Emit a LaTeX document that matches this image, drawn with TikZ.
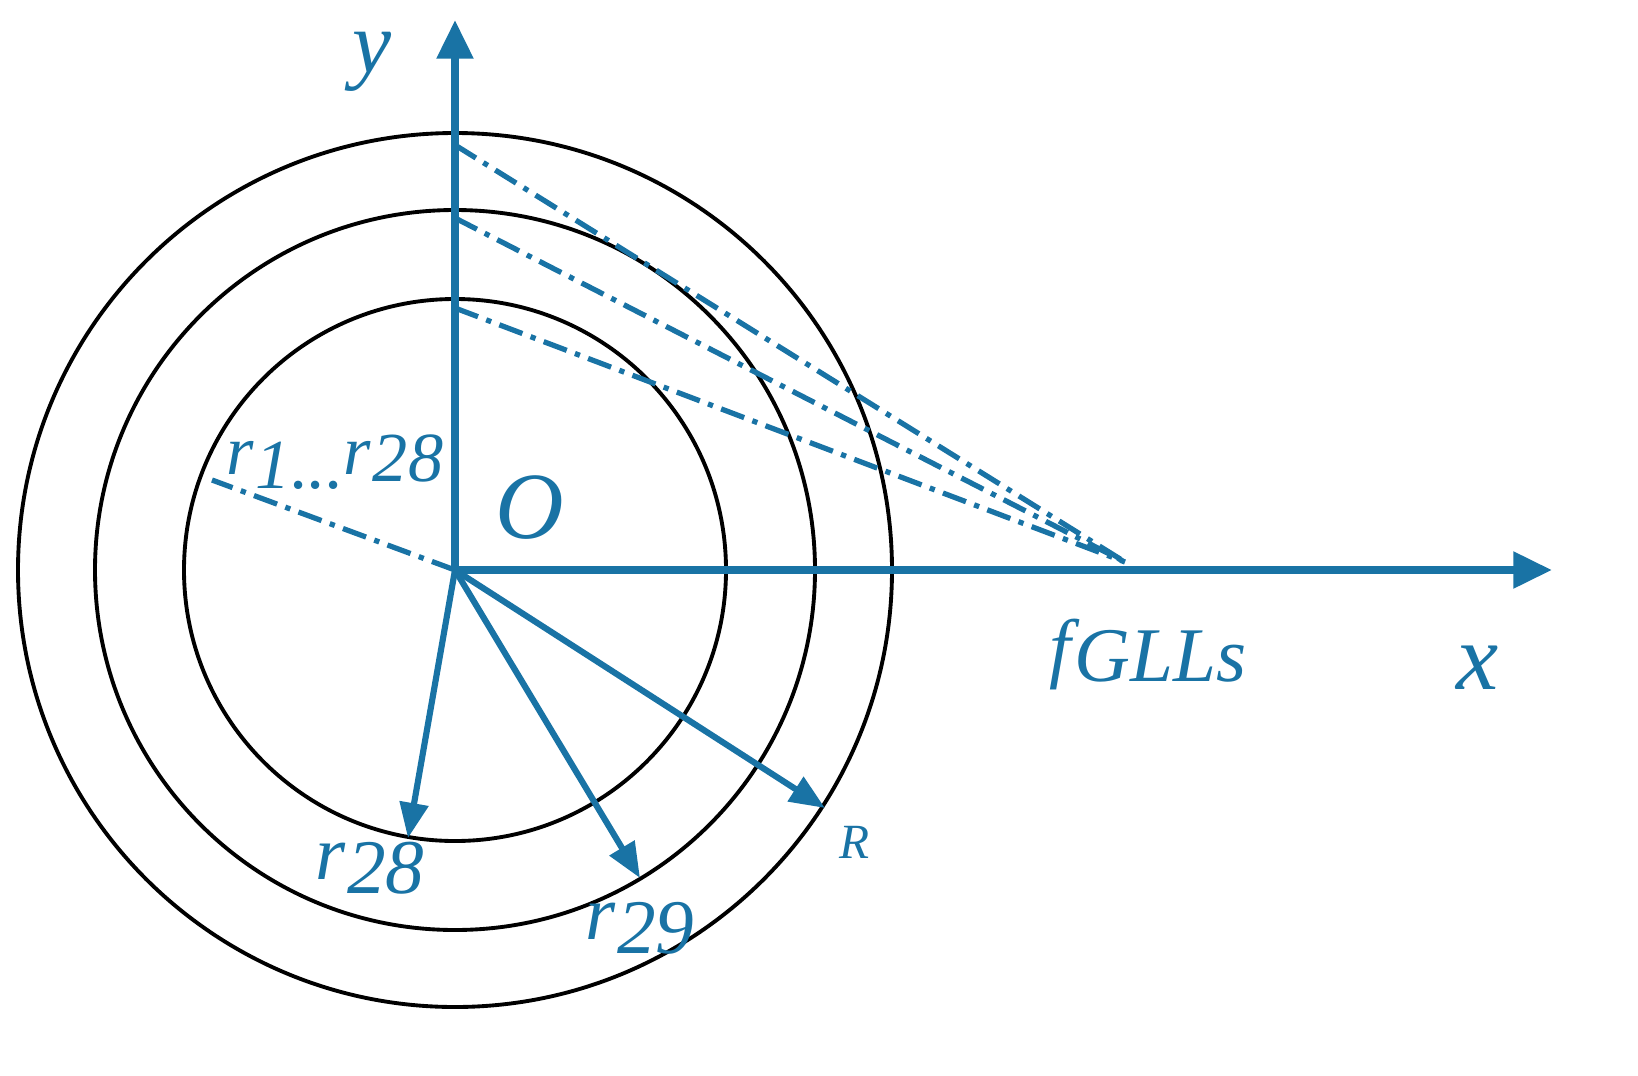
\documentclass[tikz,border=0pt]{standalone}
\usepackage{fontspec}
\setmainfont{Liberation Serif}
\usetikzlibrary{arrows.meta}
\definecolor{ax}{RGB}{25,115,165}
\tikzset{axis/.style={draw=ax,line width=4.5pt,-{Triangle[length=22pt,width=20pt]}},
 vec/.style={draw=ax,line width=3.5pt,-{Triangle[length=20pt,width=16pt]}},
 dd/.style={draw=ax,line width=3pt,dash pattern=on 14pt off 5pt on 3pt off 5pt},
 ring/.style={draw=black,line width=2.2pt},
 lab/.style={text=ax,font=\itshape\fontsize{44}{44}\selectfont,inner sep=0pt}}
\begin{document}
\begin{tikzpicture}[x=0.02cm,y=-0.02cm]
\path[use as bounding box,clip] (0,0) rectangle (1638,1075);
\coordinate (O) at (455,570);
\coordinate (F) at (1125,562);
\coordinate (a1) at (455,145);
\coordinate (a2) at (455,218);
\coordinate (a3) at (455,308);
\coordinate (rr) at (212,480);
\draw[ring] (O) circle[radius=271];
\draw[ring] (O) circle[radius=360];
\draw[ring] (O) circle[radius=437];
\draw[dd] (a1) -- (F);
\draw[dd] (a2) -- (F);
\draw[dd] (a3) -- (F);
\draw[dd] (O) -- (rr);
\coordinate (yt) at (455,20);
\coordinate (xt) at (1552,570);
\draw[axis] (O) -- (yt);
\draw[axis] (O) -- (xt);
\coordinate (p28) at (408,838);
\coordinate (p29) at (640,878);
\coordinate (pR) at (825,808);
\draw[vec] (O) -- (p28);
\draw[vec] (O) -- (p29);
\draw[vec] (O) -- (pR);
\node[lab,font=\itshape\fontsize{50}{50}\selectfont] (ly) at (372,62) {y};
\node[lab,font=\itshape\fontsize{54}{54}\selectfont] (lx) at (1478,668) {x};
\node[lab,font=\itshape\fontsize{54}{54}\selectfont] (lO) at (530,508) {O};
\node[lab] (lf) at (1148,655) {f\kern2pt\raisebox{-4pt}{GLLs}};
\node[lab,font=\itshape\fontsize{40}{40}\selectfont] (l1) at (335,462) {r\kern1pt\raisebox{-8pt}{1...}r\kern1pt\raisebox{-4pt}{28}};
\node[lab] (l28) at (370,868) {r\kern1pt\raisebox{-8pt}{28}};
\node[lab] (l29) at (640,928) {r\kern1pt\raisebox{-8pt}{29}};
\node[lab,font=\itshape\fontsize{28}{28}\selectfont] (lR) at (855,842) {R};
\end{tikzpicture}
\end{document}
